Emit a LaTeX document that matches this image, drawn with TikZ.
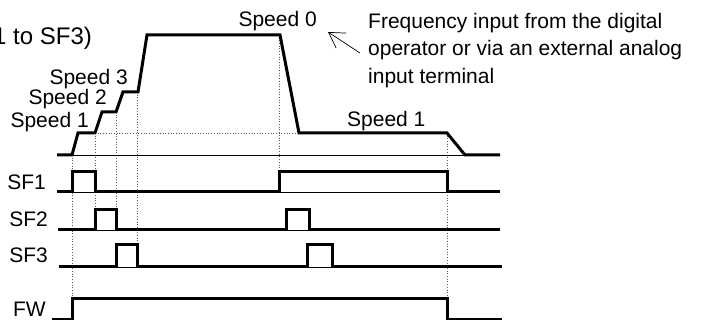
\documentclass[tikz,border=0pt]{standalone}
\usepackage{fontspec}
\setmainfont{Liberation Sans}
\usetikzlibrary{arrows.meta}
\definecolor{guidegray}{RGB}{90,90,90}

\begin{document}
\begin{tikzpicture}[x=1pt, y=-1pt, every node/.style={inner sep=0pt, font=\fontsize{21}{27.5}\selectfont},
    wave/.style={line width=3pt, line join=miter},
    baseline/.style={line width=0.8pt},
    guide/.style={dotted, line width=0.7pt, guidegray},
    callout/.style={line width=0.7pt, -{Straight Barb[length=15pt,width=18pt]}}]
    \useasboundingbox (0,0) rectangle (702,320);
    \clip (0,0) rectangle (702,320);

    % guides
    \draw[guide] (72,155) -- (72,299);
    \draw[guide] (95,133) -- (95,210);
    \draw[guide] (116,112) -- (116,210);
    \draw[guide] (137,92) -- (137,245);
    \draw[guide] (279,35) -- (279,172);
    \draw[guide] (447,133) -- (447,299);
    \draw[guide] (95,133) -- (299,133);

    % baselines
    \draw[baseline] (57,155) -- (500,155);
    \draw[baseline] (57,192) -- (500,192);
    \draw[baseline] (58,230) -- (500,230);
    \draw[baseline] (59,267) -- (502,267);

    % speed
    \draw[wave] (57,155) -- (72,155) -- (78,133) -- (95,133) -- (102,112) -- (116,112) -- (123,92) -- (138,92)
        -- (147,35) -- (280,35) -- (299,133) -- (447,133) -- (465,155) -- (500,155);

    % SF1, SF2, SF3, FW
    \draw[wave] (57,192) -- (72,192) -- (72,172) -- (95,172) -- (95,192) -- (279,192) -- (279,172) -- (447,172) -- (447,192) -- (500,192);
    \draw[wave] (58,230) -- (95,230) -- (95,210) -- (116,210) -- (116,230) -- (286,230) -- (286,210) -- (309,210) -- (309,230) -- (500,230);
    \draw[wave] (59,267) -- (116,267) -- (116,245) -- (137,245) -- (137,267) -- (307,267) -- (307,245) -- (332,245) -- (332,267) -- (502,267);
    \draw[wave] (52,319.5) -- (72,319.5) -- (72,299) -- (447,299) -- (447,319.5) -- (502,319.5);

    \node[anchor=base west, font=\fontsize{24}{28}\selectfont] (range) at (-7,45) {1 to SF3)};

    \node[anchor=base east] (spdone) at (89,128) {Speed 1};
    \node[anchor=base east] (spdtwo) at (107,105) {Speed 2};
    \node[anchor=base east] (spdthree) at (128,85) {Speed 3};
    \node[anchor=base east] (spdzero) at (317,27) {Speed 0};
    \node[anchor=base west] (spdlast) at (347,127) {Speed 1};

    \node[anchor=base east] (sfone) at (46,190) {SF1};
    \node[anchor=base east] (sftwo) at (48,227) {SF2};
    \node[anchor=base east] (sfthree) at (48,263) {SF3};
    \node[anchor=base east] (fw) at (46,317) {FW};

    \node[anchor=north west, align=left] (freq) at (368,12.7) {Frequency input from the digital\\operator or via an external analog\\input terminal};
    \coordinate (calltail) at (360,53);
    \coordinate (calltip) at (328,32);
    \draw[callout] (calltail) -- (calltip);
\end{tikzpicture}
\end{document}
